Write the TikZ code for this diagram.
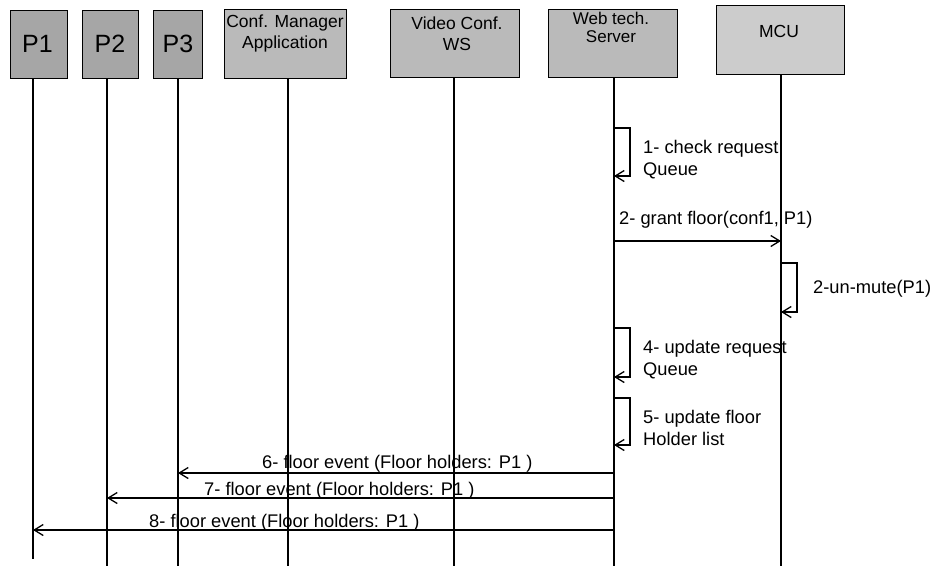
\documentclass[tikz,border=0pt]{standalone}
\usepackage{fontspec}
\setmainfont{Liberation Sans}
\usetikzlibrary{arrows.meta}
\begin{document}
\begin{tikzpicture}[x=1pt,y=-1pt,
  actor/.style={draw=black, line width=1.3pt, inner sep=0pt, anchor=north west},
  pbox/.style={actor, fill=black!35},
  gbox/.style={actor, fill=black!27},
  mbox/.style={actor, fill=black!20},
  ptxt/.style={font=\fontsize{25}{28}\selectfont, inner sep=0pt},
  btxt/.style={font=\fontsize{17.5}{21}\selectfont, align=center, inner sep=0pt},
  mtxt/.style={font=\fontsize{18.3}{22}\selectfont, align=left, inner sep=0pt, anchor=north west},
  ltxt/.style={font=\fontsize{18.3}{22}\selectfont, inner sep=0pt, anchor=base west},
  life/.style={line width=1.4pt},
  msg/.style={line width=1.3pt, -{Straight Barb[length=9pt,width=11pt,line width=1.3pt]}}
]
\useasboundingbox[fill=white] (0,0) rectangle (935,566);

% actor boxes
\node[pbox, minimum width=57pt, minimum height=68pt] (p1) at (10,10) {};
\node[pbox, minimum width=56pt, minimum height=68pt] (p2) at (82,10) {};
\node[pbox, minimum width=49pt, minimum height=68pt] (p3) at (153,10) {};
\node[gbox, minimum width=122pt, minimum height=69pt] (conf) at (224,9) {};
\node[gbox, minimum width=129pt, minimum height=68pt] (video) at (390,9) {};
\node[gbox, minimum width=129pt, minimum height=68pt] (web) at (548,9) {};
\node[mbox, minimum width=128pt, minimum height=69pt] (mcu) at (716,5) {};

% actor texts
\node[ptxt] (p1t) at (37.5,44) {P1};
\node[ptxt] (p2t) at (110,44) {P2};
\node[ptxt] (p3t) at (178,44) {P3};
\node[btxt] (conft) at (285,33) {Conf. Manager\\Application};
\node[btxt] (videot) at (457,34) {Video Conf.\\WS};
\node[btxt, font=\fontsize{17}{18}\selectfont] (webt) at (611,27) {Web tech.\\Server};
\node[btxt] (mcut) at (779,31) {MCU};

% lifelines
\coordinate (l1t) at (33,78);   \coordinate (l1b) at (33,559);
\coordinate (l2t) at (107,78);  \coordinate (l2b) at (107,566);
\coordinate (l3t) at (178,78);  \coordinate (l3b) at (178,566);
\coordinate (l4t) at (288,78);  \coordinate (l4b) at (288,566);
\coordinate (l5t) at (454,77);  \coordinate (l5b) at (454,566);
\coordinate (l6t) at (614,77);  \coordinate (l6b) at (614,566);
\coordinate (l7t) at (781,74);  \coordinate (l7b) at (781,566);
\foreach \i in {1,...,7} { \draw[life] (l\i t) -- (l\i b); }

% 1- self message on Web server
\coordinate (s1a) at (614,128); \coordinate (s1b) at (614,176);
\draw[msg] (s1a) -- ++(16,0) |- (s1b);
\node[mtxt] (m1) at (643,140.5) {1- check request\\Queue};

% 2- grant floor
\coordinate (g2a) at (614,241); \coordinate (g2b) at (781,241);
\draw[msg] (g2a) -- (g2b);
\node[ltxt] (m2) at (619,224) {2- grant floor(conf1, P1)};

% 2- un-mute on MCU
\coordinate (u2a) at (781,263); \coordinate (u2b) at (781,312);
\draw[msg] (u2a) -- ++(16,0) |- (u2b);
\node[ltxt] (m3) at (813,293) {2-un-mute(P1)};

% 4- update request queue
\coordinate (s4a) at (614,328); \coordinate (s4b) at (614,377);
\draw[msg] (s4a) -- ++(16,0) |- (s4b);
\node[mtxt] (m4) at (643,340.5) {4- update request\\Queue};

% 5- update floor holder list
\coordinate (s5a) at (614,398); \coordinate (s5b) at (614,445);
\draw[msg] (s5a) -- ++(16,0) |- (s5b);
\node[mtxt] (m5) at (643,410.5) {5- update floor\\Holder list};

% 6,7,8 floor events
\coordinate (e6a) at (614,473); \coordinate (e6b) at (178,473);
\draw[msg] (e6a) -- (e6b);
\node[ltxt] (m6) at (262,468) {6- floor event (Floor holders: P1 )};

\coordinate (e7a) at (614,498); \coordinate (e7b) at (107,498);
\draw[msg] (e7a) -- (e7b);
\node[ltxt] (m7) at (204,495) {7- floor event (Floor holders: P1 )};

\coordinate (e8a) at (614,530); \coordinate (e8b) at (33,530);
\draw[msg] (e8a) -- (e8b);
\node[ltxt] (m8) at (149,527) {8- floor event (Floor holders: P1 )};
\end{tikzpicture}
\end{document}
